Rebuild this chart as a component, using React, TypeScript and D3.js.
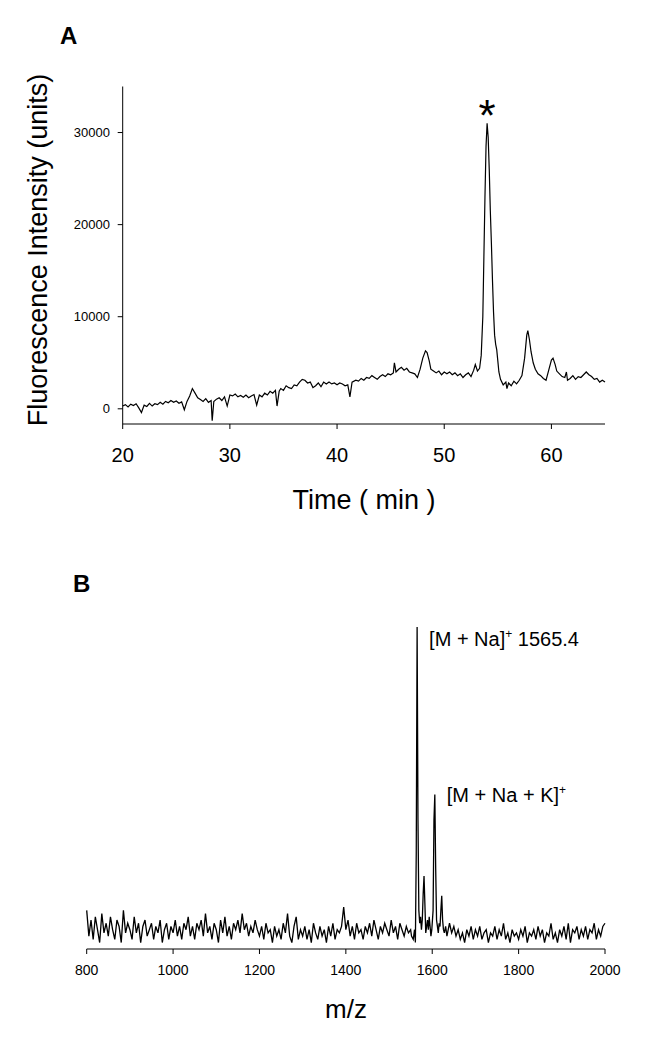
import React from "react";
import * as d3 from "d3";

// Panel A: fluorescence chromatogram [time (min), intensity]
const chromatogram: [number, number][] = [
  [20, 300], [20.25, 450], [20.5, 200], [20.75, 500], [21, 350], [21.25, 550], [21.5, 100], [21.75, -400],
  [22, 400], [22.25, 250], [22.5, 600], [22.75, 300], [23, 550], [23.25, 450], [23.5, 700], [23.75, 500],
  [24, 800], [24.25, 650], [24.5, 900], [24.75, 700], [25, 850], [25.25, 600], [25.5, 750], [25.75, -100],
  [26, 800], [26.25, 1400], [26.5, 2200], [26.75, 1700], [27, 1200], [27.25, 1000], [27.5, 800], [27.75, 1100],
  [28, 700], [28.25, 900], [28.35, -1300], [28.5, 800], [28.75, 1050], [29, 1200], [29.25, 900], [29.5, 1300],
  [29.75, 300], [30, 1500], [30.25, 1400], [30.5, 1600], [30.75, 1300], [31, 1450], [31.25, 1250], [31.5, 1500],
  [31.75, 1200], [32, 1400], [32.25, 1550], [32.5, 400], [32.75, 1500], [33, 1300], [33.25, 1700], [33.5, 1500],
  [33.75, 1900], [34, 1700], [34.25, 2000], [34.4, 300], [34.6, 1900], [34.75, 2200], [35, 2000], [35.25, 2500],
  [35.5, 2300], [35.75, 2200], [36, 2600], [36.25, 2500], [36.5, 2900], [36.75, 3200], [37, 3100], [37.25, 2800],
  [37.5, 2900], [37.75, 2300], [38, 2500], [38.25, 2800], [38.5, 2400], [38.75, 2900], [39, 2700], [39.25, 2900],
  [39.5, 2700], [39.75, 2800], [40, 2600], [40.25, 2800], [40.5, 2700], [40.75, 2500], [41, 2600], [41.2, 1300],
  [41.4, 2900], [41.75, 3100], [42, 3000], [42.25, 3300], [42.5, 3100], [42.75, 3400], [43, 3300], [43.25, 3600],
  [43.5, 3400], [43.75, 3200], [44, 3500], [44.25, 3700], [44.5, 3500], [44.75, 3800], [45, 3700], [45.25, 3900],
  [45.35, 5000], [45.5, 4000], [45.75, 4300], [46, 4500], [46.25, 4200], [46.5, 4400], [46.75, 4000], [47, 3900],
  [47.25, 3800], [47.5, 3400], [47.75, 4300], [48, 5500], [48.25, 6300], [48.4, 6100], [48.6, 5200], [48.75, 4300],
  [49, 4100], [49.25, 3900], [49.5, 4100], [49.75, 3700], [50, 4000], [50.25, 3800], [50.5, 4000], [50.75, 3700],
  [51, 3900], [51.25, 3600], [51.5, 3800], [51.75, 3400], [52, 3700], [52.25, 3900], [52.5, 3500], [52.75, 4200],
  [52.9, 4800], [53.1, 4100], [53.3, 4400], [53.45, 5800], [53.6, 10000], [53.7, 16500], [53.8, 23000], [53.9, 28500],
  [54, 31000], [54.1, 29500], [54.2, 26000], [54.3, 21500], [54.4, 18000], [54.5, 14000], [54.6, 10500], [54.7, 8000],
  [54.8, 7000], [54.9, 6400], [55, 5200], [55.1, 4000], [55.25, 3200], [55.5, 2600], [55.75, 2900], [55.85, 2200],
  [56, 2800], [56.25, 2500], [56.5, 3000], [56.75, 2700], [57, 3100], [57.25, 3600], [57.5, 5500], [57.7, 8000],
  [57.8, 8500], [57.95, 7500], [58.1, 6200], [58.3, 5000], [58.5, 4300], [58.75, 3800], [59, 3600], [59.25, 3300],
  [59.5, 3100], [59.75, 4200], [60, 5300], [60.15, 5500], [60.35, 4800], [60.5, 4100], [60.75, 3800], [61, 3500],
  [61.25, 3400], [61.4, 4000], [61.5, 3100], [61.75, 3300], [62, 3600], [62.25, 3200], [62.5, 3500], [62.75, 3400],
  [63, 3700], [63.25, 4000], [63.5, 3700], [63.75, 3500], [64, 3200], [64.25, 3300], [64.5, 2900], [64.75, 3100],
  [65, 2900],
];
const timeTicks = [20, 30, 40, 50, 60];
const intensityTicks = [0, 10000, 20000, 30000];
const starPeakTime = 54;

// Panel B: mass spectrum, relative intensity (noise sampled every 5 m/z)
const msNoiseStep = 5;
const msNoiseLowStart = 800;
const msNoiseLow = [
  12, 4, 9, 3, 10, 6, 2, 11, 5, 8,
  4, 10, 6, 3, 9, 7, 2, 12, 5, 8,
  6, 3, 10, 5, 8, 2, 7, 9, 4, 6,
  8, 3, 7, 5, 9, 2, 6, 8, 3, 7,
  5, 9, 4, 7, 3, 8, 6, 10, 4, 7,
  3, 8, 6, 9, 4, 11, 5, 7, 3, 8,
  6, 2, 9, 5, 10, 4, 7, 3, 8, 6,
  9, 5, 11, 6, 8, 4, 7, 5, 9, 6,
  4, 7, 3, 8, 5, 6, 2, 7, 4, 6,
  3, 8, 5, 11, 4, 2, 7, 10, 3, 6,
  4, 7, 3, 6, 2, 8, 5, 3, 7, 4,
  6, 2, 7, 4, 8, 3, 6, 5, 7, 13,
  6, 9, 4, 7, 3, 8, 5, 6, 3, 7,
  5, 8, 4, 9, 6, 3, 7, 5, 8, 6,
  4, 9, 5, 7, 3, 8, 6, 4, 7, 5,
  6,
];
const msPeakCluster: [number, number][] = [
  [1552, 4], [1556, 3], [1559, 6], [1561, 2], [1563, 30], [1565, 100], [1567, 40], [1569, 12],
  [1571, 8], [1573, 10], [1575, 6], [1577, 9], [1579, 17], [1581, 22.7], [1583, 14], [1585, 5],
  [1587, 7], [1589, 9], [1591, 6], [1593, 10], [1595, 7], [1597, 4], [1599, 6], [1602, 12],
  [1604, 40], [1606, 48], [1608, 25], [1610, 9], [1612, 7], [1614, 5], [1616, 8], [1618, 7],
  [1620, 12], [1622, 16.5], [1624, 9], [1626, 6], [1628, 5], [1631, 7], [1634, 4], [1637, 6],
];
const msNoiseHighStart = 1640;
const msNoiseHigh = [
  8, 5, 7, 4, 6, 3, 5, 2, 6, 4, 7, 3,
  6, 4, 7, 3, 5, 6, 2, 5, 4, 7,
  3, 6, 4, 8, 3, 5, 2, 6, 4, 5,
  3, 6, 4, 7, 2, 5, 4, 6, 3, 7,
  4, 6, 2, 5, 4, 8, 3, 5, 2, 6,
  4, 7, 3, 8, 2, 6, 5, 7, 3, 6,
  4, 7, 3, 6, 5, 8, 3, 6, 4, 7,
  8,
];
const mzTicks = [800, 1000, 1200, 1400, 1600, 1800, 2000];
const naPeakMz = 1565;
const naKPeakMz = 1606;

const font = "'Liberation Sans', Arial, sans-serif";

const spectrum: [number, number][] = [
  ...msNoiseLow.map((v, i) => [msNoiseLowStart + i * msNoiseStep, v] as [number, number]),
  ...msPeakCluster,
  ...msNoiseHigh.map((v, i) => [msNoiseHighStart + i * msNoiseStep, v] as [number, number]),
].sort((a, b) => a[0] - b[0]);

export default function App() {
  // panel A scales
  const xA = d3.scaleLinear().domain([20, 65]).range([122.7, 605]);
  const yA = d3.scaleLinear().domain([-1650, 35000]).range([424, 86.5]);
  const lineA = d3
    .line<[number, number]>()
    .x((d) => xA(d[0]))
    .y((d) => yA(d[1]));

  // panel B scales
  const xB = d3.scaleLinear().domain([800, 2000]).range([86.7, 605]);
  const yB = d3.scaleLinear().domain([0, 100]).range([949, 627]);
  const lineB = d3
    .line<[number, number]>()
    .x((d) => xB(d[0]))
    .y((d) => yB(d[1]));

  const peakA = chromatogram.find((d) => d[0] === starPeakTime)!;

  return (
    <svg
      width={664}
      height={1038}
      style={{ position: "absolute", left: 0, top: 0, background: "white" }}
      fontFamily={font}
    >
      {/* Panel A */}
      <text x={60} y={44} fontSize={24} fontWeight="bold">
        A
      </text>
      <line x1={xA(20)} y1={86.5} x2={xA(20)} y2={424} stroke="black" strokeWidth={1} />
      <line x1={xA(20)} y1={424} x2={xA(65)} y2={424} stroke="black" strokeWidth={1} />
      {intensityTicks.map((t) => (
        <g key={t}>
          <line x1={xA(20) - 5} x2={xA(20)} y1={yA(t)} y2={yA(t)} stroke="black" />
          <text x={110} y={yA(t)} fontSize={13} textAnchor="end" dominantBaseline="central">
            {t}
          </text>
        </g>
      ))}
      {timeTicks.map((t) => (
        <g key={t}>
          <line x1={xA(t)} x2={xA(t)} y1={424} y2={429} stroke="black" />
          <text x={xA(t)} y={462} fontSize={20} textAnchor="middle">
            {t}
          </text>
        </g>
      ))}
      <path d={lineA(chromatogram) ?? ""} fill="none" stroke="black" strokeWidth={1.2} />
      <text x={xA(peakA[0])} y={yA(peakA[1]) + 8} fontSize={44} textAnchor="middle">
        *
      </text>
      <text
        transform={`translate(46.5, 250) rotate(-90)`}
        fontSize={27}
        textAnchor="middle"
      >
        Fluorescence Intensity (units)
      </text>
      <text x={364} y={509} fontSize={27} textAnchor="middle">
        Time ( min )
      </text>

      {/* Panel B */}
      <text x={73} y={592} fontSize={24} fontWeight="bold">
        B
      </text>
      <line x1={xB(800)} y1={949} x2={xB(2000)} y2={949} stroke="black" strokeWidth={1} />
      {mzTicks.map((t) => (
        <g key={t}>
          <line x1={xB(t)} x2={xB(t)} y1={949} y2={954} stroke="black" />
          <text x={xB(t)} y={975} fontSize={14} textAnchor="middle">
            {t}
          </text>
        </g>
      ))}
      <path d={lineB(spectrum) ?? ""} fill="none" stroke="black" strokeWidth={1.3} />
      <text x={xB(naPeakMz) + 12} y={yB(100) + 19} fontSize={20}>
        [M + Na]
        <tspan dy={-8} fontSize={12}>+</tspan>
        <tspan dy={8}> 1565.4</tspan>
      </text>
      <text x={xB(naKPeakMz) + 12} y={yB(48) + 8} fontSize={20}>
        [M + Na + K]
        <tspan dy={-8} fontSize={12}>+</tspan>
      </text>
      <text x={346} y={1018} fontSize={26} textAnchor="middle">
        m/z
      </text>
    </svg>
  );
}
